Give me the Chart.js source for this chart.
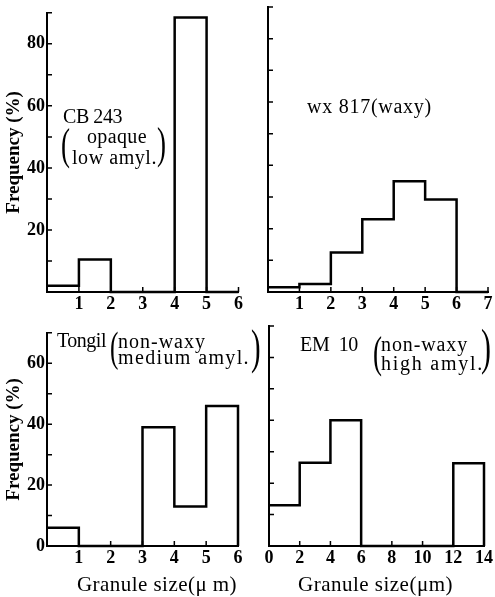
<!DOCTYPE html>
<html>
<head>
<meta charset="utf-8">
<script src="https://cdn.jsdelivr.net/npm/chart.js@4.4.1/dist/chart.umd.min.js"></script>
<style>
  html, body { margin: 0; padding: 0; background: #fff; }
  #wrap { position: relative; width: 495px; height: 597px; overflow: hidden; font-family: 'Liberation Serif', serif; color: #000; }
  #wrap canvas { position: absolute; }
  .note { position: absolute; white-space: nowrap; font-size: 20px; line-height: 20px; }
  .par { position: absolute; line-height: 1; transform: scaleX(0.6); transform-origin: 0 0; }
  .xt { position: absolute; white-space: nowrap; font-size: 21px; line-height: 21px; }
</style>
</head>
<body>
<div id="wrap">
  <canvas id="c1" width="245" height="320" style="left:0;top:0"></canvas>
  <canvas id="c2" width="250" height="320" style="left:245px;top:0"></canvas>
  <canvas id="c3" width="245" height="277" style="left:0;top:320px"></canvas>
  <canvas id="c4" width="250" height="277" style="left:245px;top:320px"></canvas>

  <span class="note" style="left:63px;top:106px" data-w="59">CB 243</span>
  <span class="par" style="left:61px;top:122px;font-size:45px">(</span>
  <span class="note" style="left:87px;top:126px" data-w="60">opaque</span>
  <span class="note" style="left:72px;top:147px" data-w="85">low amyl.</span>
  <span class="par" style="left:157px;top:121px;font-size:45px">)</span>

  <span class="note" style="left:307px;top:96px" data-w="125">wx 817(waxy)</span>

  <span class="note" style="left:57px;top:330px" data-w="49">Tongil</span>
  <span class="par" style="left:110px;top:326px;font-size:42px">(</span>
  <span class="note" style="left:118px;top:331px" data-w="88">non-waxy</span>
  <span class="note" style="left:118px;top:347px" data-w="132">medium amyl.</span>
  <span class="par" style="left:251px;top:323px;font-size:48px">)</span>

  <span class="note" style="left:300px;top:334px" data-w="58">EM&nbsp;&nbsp;10</span>
  <span class="par" style="left:373px;top:330px;font-size:45px">(</span>
  <span class="note" style="left:381px;top:334px" data-w="87">non-waxy</span>
  <span class="note" style="left:381px;top:353px" data-w="103">high amyl.</span>
  <span class="par" style="left:481px;top:322px;font-size:50px">)</span>

  <span class="xt" style="left:77px;top:574px" data-w="160">Granule size(μ m)</span>
  <span class="xt" style="left:298px;top:574px" data-w="155">Granule size(μm)</span>
</div>
<script>
// bin edges (granule size, µm) and frequencies (%) per bin
const EDGES_CB243 = [0, 1, 2, 3, 4, 5, 6];
const EDGES_WX817 = [0, 1, 2, 3, 4, 5, 6, 7];
const EDGES_TONGIL = [0, 1, 2, 3, 4, 5, 6];
const EDGES_EM10 = [0, 2, 4, 6, 8, 10, 12, 14];
const FREQ_CB243 = [2, 10.5, 0, 0, 88.5, 0];
const FREQ_WX817 = [1.5, 2.5, 12.5, 23, 35, 29.2, 0];
const FREQ_TONGIL = [6, 0, 0, 39, 13, 46];
const FREQ_EM10 = [13, 26.5, 40, 0, 0, 0, 26.3];
const X_LABELS_CB243 = [1, 2, 3, 4, 5, 6];
const X_LABELS_WX817 = [1, 2, 3, 4, 5, 6, 7];
const X_LABELS_TONGIL = [1, 2, 3, 4, 5, 6];
const X_LABELS_EM10 = [0, 2, 4, 6, 8, 10, 12, 14];
const Y_LABELS_TOP = [20, 40, 60, 80];
const Y_LABELS_BOTTOM = [0, 20, 40, 60];

const FONT = "'Liberation Serif', serif";

// fit annotation widths to the reference
document.querySelectorAll('[data-w]').forEach((el) => {
  const n = el.textContent.length;
  const extra = (Number(el.dataset.w) - el.getBoundingClientRect().width) / n;
  el.style.letterSpacing = extra.toFixed(2) + 'px';
});

function histPoints(edges, values) {
  const pts = values.map((v, i) => ({ x: edges[i], y: v }));
  pts.push({ x: edges[edges.length - 1], y: 0 });
  return pts;
}

// tick marks pointing into the plot
const inwardTicks = {
  id: 'inwardTicks',
  afterDatasetsDraw(chart, args, opts) {
    const { ctx, chartArea: a, scales: { x, y } } = chart;
    ctx.save();
    ctx.strokeStyle = '#000';
    ctx.lineWidth = 1.5;
    ctx.beginPath();
    for (let v = x.min + opts.xStep; v <= x.max + 1e-9; v += opts.xStep) {
      const px = x.getPixelForValue(v);
      ctx.moveTo(px, a.bottom);
      ctx.lineTo(px, a.bottom - 5);
    }
    for (let v = y.min + opts.yStep; v <= y.max + 1e-9; v += opts.yStep) {
      const py = y.getPixelForValue(v);
      ctx.moveTo(a.left, py);
      ctx.lineTo(a.left + 5, py);
    }
    ctx.stroke();
    ctx.restore();
  },
};

function makePanel(id, p) {
  return new Chart(document.getElementById(id), {
    type: 'line',
    data: {
      datasets: [{
        data: histPoints(p.edges, p.values),
        stepped: true,
        borderColor: '#000',
        borderWidth: 2.5,
        pointRadius: 0,
        fill: false,
        clip: false,
      }],
    },
    options: {
      responsive: false,
      animation: false,
      devicePixelRatio: 1,
      layout: { padding: p.pad },
      plugins: {
        legend: { display: false },
        tooltip: { enabled: false },
        inwardTicks: { xStep: p.xStep, yStep: 10 },
      },
      scales: {
        x: {
          type: 'linear',
          min: p.edges[0],
          max: p.edges[p.edges.length - 1],
          afterFit: (s) => { s.height = p.xHeight; },
          grid: { display: false, drawTicks: false },
          border: { display: true, color: '#000', width: 2 },
          ticks: {
            stepSize: p.xStep,
            autoSkip: false,
            maxRotation: 0,
            padding: 2,
            color: '#000',
            font: { family: FONT, size: 18, weight: 'bold' },
            callback: (v) => (p.xLabels.includes(v) ? String(v) : null),
          },
        },
        y: {
          min: 0,
          max: p.yMax,
          afterFit: (s) => { s.width = p.yWidth; },
          grid: { display: false, drawTicks: false },
          border: { display: true, color: '#000', width: 2 },
          title: {
            display: !!p.yTitle,
            text: p.yTitle || '',
            color: '#000',
            padding: { top: 3, bottom: 0 },
            font: { family: FONT, size: 19, weight: 'bold' },
          },
          ticks: {
            display: p.yLabels.length > 0,
            stepSize: 10,
            padding: 2,
            color: '#000',
            font: { family: FONT, size: 18, weight: 'bold' },
            callback: (v) => (p.yLabels.includes(v) ? String(v) : null),
          },
        },
      },
    },
    plugins: [inwardTicks],
  });
}

makePanel('c1', {
  edges: EDGES_CB243, values: FREQ_CB243, xLabels: X_LABELS_CB243, xStep: 1,
  yLabels: Y_LABELS_TOP, yMax: 90, yTitle: 'Frequency (%)',
  yWidth: 47, xHeight: 28, pad: { top: 11, right: 6, bottom: 0, left: 0 },
});
makePanel('c2', {
  edges: EDGES_WX817, values: FREQ_WX817, xLabels: X_LABELS_WX817, xStep: 1,
  yLabels: [], yMax: 90, yTitle: '',
  yWidth: 23, xHeight: 28, pad: { top: 7, right: 7, bottom: 0, left: 0 },
});
makePanel('c3', {
  edges: EDGES_TONGIL, values: FREQ_TONGIL, xLabels: X_LABELS_TONGIL, xStep: 1,
  yLabels: Y_LABELS_BOTTOM, yMax: 70, yTitle: 'Frequency (%)',
  yWidth: 47, xHeight: 51, pad: { top: 8, right: 7, bottom: 0, left: 0 },
});
makePanel('c4', {
  edges: EDGES_EM10, values: FREQ_EM10, xLabels: X_LABELS_EM10, xStep: 2,
  yLabels: [], yMax: 70, yTitle: '',
  yWidth: 24, xHeight: 51, pad: { top: 6, right: 9, bottom: 0, left: 0 },
});
</script>
</body>
</html>
